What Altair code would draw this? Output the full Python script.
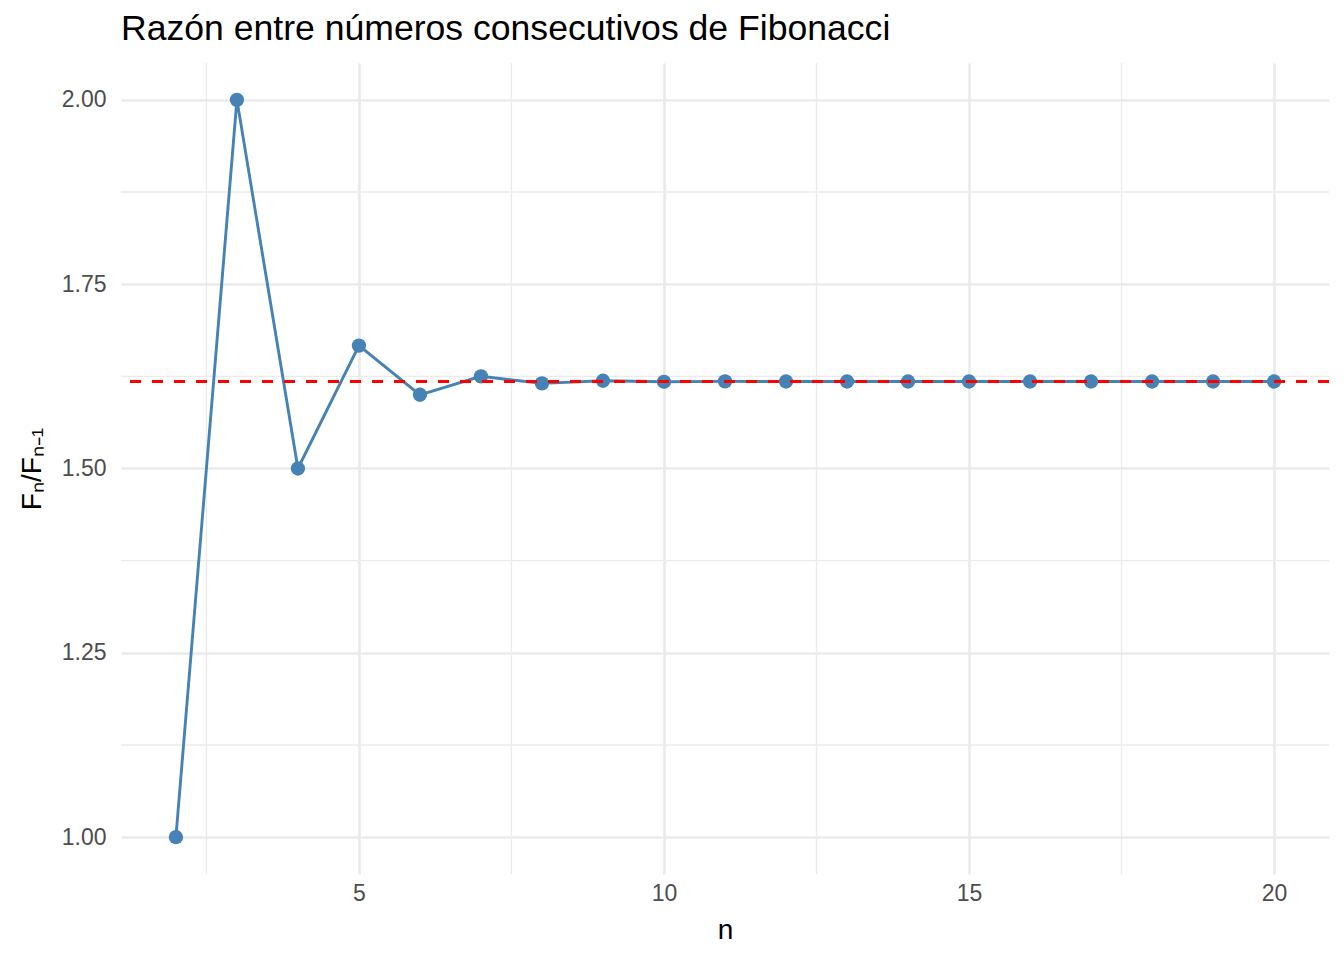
import altair as alt
import pandas as pd

n_values = [2, 3, 4, 5, 6, 7, 8, 9, 10, 11, 12, 13, 14, 15, 16, 17, 18, 19, 20]
ratio_values = [1.0, 2.0, 1.5, 1.6667, 1.6, 1.625, 1.6154, 1.6190, 1.6176, 1.6182,
                1.6180, 1.6180, 1.6180, 1.6180, 1.6180, 1.6180, 1.6180, 1.6180, 1.6180]
golden = [1.618034]
x_ticks = [5, 10, 15, 20]
y_ticks = [1.00, 1.25, 1.50, 1.75, 2.00]
x_minor = [2.5, 7.5, 12.5, 17.5]
y_minor = [1.125, 1.375, 1.625, 1.875]
title_text = ["Razón entre números consecutivos de Fibonacci"]

df = pd.DataFrame({"n": n_values, "ratio": ratio_values})
xs = alt.Scale(domain=[1.1, 20.9], nice=False, zero=False)
ys = alt.Scale(domain=[0.95, 2.05], nice=False, zero=False)

grid_color = "#EBEBEB"

xminor = alt.Chart(pd.DataFrame({"v": x_minor})).mark_rule(color=grid_color, strokeWidth=1.35).encode(
    x=alt.X("v:Q", scale=xs))
yminor = alt.Chart(pd.DataFrame({"v": y_minor})).mark_rule(color=grid_color, strokeWidth=1.35).encode(
    y=alt.Y("v:Q", scale=ys))

line = alt.Chart(df).mark_line(color="#4682B4", strokeWidth=2.9).encode(
    x=alt.X("n:Q", scale=xs, title="n",
            axis=alt.Axis(values=x_ticks, grid=True, format="d")),
    y=alt.Y("ratio:Q", scale=ys, title="Fₙ/Fₙ₋₁",
            axis=alt.Axis(values=y_ticks, grid=True, format=".2f")),
)
points = alt.Chart(df).mark_circle(color="#4682B4", size=205, opacity=1).encode(
    x=alt.X("n:Q", scale=xs), y=alt.Y("ratio:Q", scale=ys))
hline = alt.Chart(pd.DataFrame({"g": golden})).mark_rule(
    color="#FF0000", strokeWidth=2.8, strokeDash=[11, 11]).encode(y=alt.Y("g:Q", scale=ys))

title = alt.Chart(pd.DataFrame({"t": title_text})).mark_text(
    align="left", baseline="alphabetic", fontSize=35.6, font="Liberation Sans", color="#000000"
).encode(text="t:N", x=alt.value(0), y=alt.value(-23))

chart = alt.layer(xminor, yminor, line, points, hline, title).properties(
    width=1208, height=811,
    autosize=alt.AutoSizeParams(type="none"),
    padding={"left": 113, "top": 55, "right": 7, "bottom": 70},
).configure_view(stroke=None).configure_axis(
    domain=False, ticks=False, tickSize=0, gridColor=grid_color, gridWidth=2.7,
    labelFont="Liberation Sans", labelFontSize=23, labelColor="#4D4D4D",
    titleFont="Liberation Sans", titleFontSize=28, titleColor="#000000", titleFontWeight="normal",
).configure_axisX(labelPadding=8, titlePadding=11).configure_axisY(labelPadding=15, titlePadding=15)

chart.save("out.html", embed_options={"renderer": "svg", "actions": False})
